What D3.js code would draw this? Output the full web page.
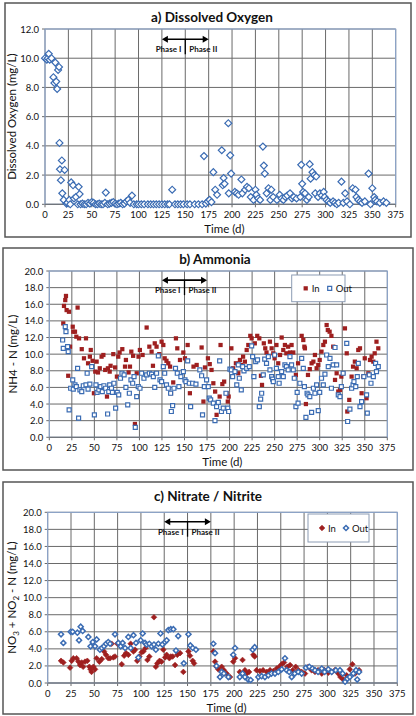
<!doctype html>
<html>
<head>
<script src="https://cdnjs.cloudflare.com/ajax/libs/d3/7.8.5/d3.min.js"></script>
<style>
  body { margin: 0; background: #fff; }
  svg text { font-family: Lato, "Open Sans", sans-serif; fill: #111; }
</style>
</head>
<body>
<svg id="chart" width="416" height="716"></svg>
<script>
// tick values
var xTicks = [0, 25, 50, 75, 100, 125, 150, 175, 200, 225, 250, 275, 300, 325, 350, 375];
var doTicks = [0, 2, 4, 6, 8, 10, 12];
var nTicks = [0, 2, 4, 6, 8, 10, 12, 14, 16, 18, 20];

// a) dissolved oxygen [day, mg/L]
var doData = [[0,10.0],[2,9.9],[3,10.0],[4,10.3],[5,9.9],[7,10.0],[9,8.7],[10,8.3],[11,9.7],[12,8.4],[13,7.9],[14,9.2],
  [15,9.4],[15.5,4.2],[16,2.4],[17,1.65],[18,3.0],[18.5,0.75],[20,0.3],[21,2.35],[23,0.05],[24,0.1],[26,0.3],[27,0.0],
  [28,1.5],[30,1.3],[31,0.4],[33,0.5],[35,0],[36,1.2],[37,0.7],[38,0],[40,0.05],[42,0],[44,0],[46,0.1],[48,0.05],
  [50,0.15],[52,0.1],[54,0],[56,0],[58,0.05],[60,0],[62,0],[64,0.1],[65,0.8],[67,0],[69,0.05],[71,0.1],[73,0.15],
  [75,0.05],[77,0],[79,0.05],[81,0.1],[83,0],[85,0.05],[87,0.2],[89,0.3],[91,0.1],[93,0.6],[95,0],[98,0],[100,0],
  [103,0],[106,0],[110,0],[113,0],[116,0],[119,0],[122,0],[125,0],[128,0],[131,0],[133,0],[136,1.0],[139,0],[142,0],
  [145,0],[148,0],[152,0],[155,0],[160,0],[164,0],[168,0],[170,3.3],[172,0.05],[174,0.2],[176,0.3],[178,0.15],
  [180,2.2],[182,1.0],[184,0.65],[189,3.7],[190,1.3],[191,1.8],[192,1.4],[196,5.55],[196.5,0.75],[198,3.35],[199,2.1],
  [203,0.85],[205,0.75],[207,0.65],[210,1.7],[211,0.75],[214,1.0],[216,1.2],[218,1.1],[220,0.5],[223,0.3],[225,1.0],
  [226,0.65],[228,0.4],[230,0.3],[233,3.95],[234,2.65],[235,2.1],[237,0.75],[239,1.1],[241,0.3],[242,1.0],[244,0.5],
  [248,0.3],[251,0.65],[253,0.4],[255,0.3],[257,0.5],[259,0.6],[262,0.75],[264,0.4],[266,0.5],[269,0.4],[273,0.5],
  [274,2.7],[275,1.4],[276,0.85],[278,0.75],[280,0.3],[282,0.5],[283,2.75],[284,1.75],[286,2.2],[288,2.0],[289,0.75],
  [290,1.9],[292,0.5],[294,0.75],[296,0.6],[298,0.85],[299,0.5],[301,0.3],[303,0.2],[305,0.1],[308,0.2],[310,0.1],
  [312,0.0],[314,0.1],[317,1.55],[319,0.1],[321,0.75],[323,0.2],[326,0],[329,1.1],[332,1.0],[333,0.5],[335,0.3],
  [337,0.2],[339,0.1],[342,0.2],[346,2.1],[348,0],[350,1.1],[352,0.5],[353,0.3],[355,0.2],[358,0.1],[362,0.2],[365,0.1]];

// b) ammonia [day, mg/L]
var nh4In = [[15.5,13.7],[16.3,15.8],[17.7,16.5],[18.5,17.0],[19.2,15.3],[21.8,15.1],[23,10.9],[21,7.4],[26,13.3],
  [26.6,12.7],[28.5,12.7],[30,12.1],[31.4,15.6],[33,11.9],[36,10.6],[38.5,9.5],[40.7,11.9],[43,8.9],[45,9.7],[46,10.5],
  [48,9.2],[49.5,5.3],[51,7.9],[52.5,9.1],[54,7.8],[56,8.3],[58,9.7],[60,9.9],[62,8.1],[64,4.9],[65,8.3],[67,7.9],
  [68,8.6],[71,10.0],[73,8.4],[75,7.3],[76.5,9.7],[78,10.2],[81,10.6],[84,8.5],[85,9.3],[88,7.8],[89.5,8.5],[91,10.3],
  [93,9.8],[95,1.6],[97,7.7],[99,9.7],[100.5,10.5],[103.5,9.9],[108,13.2],[111,10.9],[113.5,10.3],[115,8.6],[117,11.3],
  [119,10.9],[122,10.0],[124.6,11.5],[126.5,11.1],[128,9.5],[130,9.2],[132,8.9],[134,8.5],[135,5.3],[137.5,6.6],
  [140.5,11.9],[142,10.7],[145,9.3],[148.7,10.2],[150.5,9.5],[153.5,11.1],[156,5.3],[160,8.5],[163.5,8.7],[169,10.8],
  [171,4.3],[172.7,8.4],[176,9.5],[178,8.8],[180,8.1],[182,6.5],[184,5.5],[185.6,2.7],[189,4.9],[190,11.1],[192,6.4],
  [194,6.7],[196.7,5.3],[198,4.3],[199,4.9],[202,10.7],[204,8.3],[207,8.9],[209.7,7.7],[211.5,9.3],[212.6,8.7],[215,9.7],
  [217,9.1],[219,10.5],[220.8,11.1],[223,12.2],[224.5,11.9],[228,11.3],[230.7,12.2],[233,11.9],[234.8,7.4],[236,6.3],
  [238,11.3],[239.6,10.7],[241,10.2],[243,9.7],[244.8,11.5],[246.7,10.7],[248.5,10.1],[250,9.5],[252,11.1],[254,8.9],
  [256,9.9],[257.8,12.0],[259.6,10.5],[261.4,11.1],[263,10.1],[265,10.9],[267,10.2],[268.8,11.1],[270.7,10.2],[273.6,7.5],
  [276,8.9],[280,12.2],[281.8,11.7],[283,10.9],[283.6,10.7],[284.7,4.0],[287,7.5],[289,8.2],[291,8.9],[293,9.1],
  [294.7,9.9],[296.6,8.3],[298.4,8.7],[300,9.3],[302,10.3],[304,11.1],[305.8,11.5],[307.7,13.5],[309,12.9],[311,12.7],
  [313,12.2],[315,10.9],[317,6.9],[318.8,7.7],[320.6,5.5],[322.5,5.7],[324,7.3],[326,7.7],[328,13.1],[330,10.1],
  [330.6,3.1],[332.8,4.5],[335.4,7.3],[337,8.5],[339,9.1],[341,8.3],[342.8,10.5],[344.7,10.7],[346.5,5.3],[348.4,7.3],
  [350,9.5],[352,4.7],[354,7.7],[355.8,9.3],[357.6,9.7],[359.5,9.1],[361,10.1],[363,11.5],[365,10.7]];
var nh4Out = [[14.8,11.7],[15.5,10.7],[17.7,13.3],[18.5,12.7],[20.3,10.9],[21,10.3],[22,3.3],[23.7,5.9],[26,6.9],
  [26.6,5.8],[28.5,6.3],[30,6.1],[31.4,8.3],[32.5,2.3],[34,5.7],[36,5.5],[37.7,6.2],[40.7,6.3],[42,7.7],[43,5.8],[45,6.4],
  [47,8.5],[50,2.7],[51.8,6.3],[53,5.4],[55,5.7],[57,6.1],[58.8,5.5],[60.6,6.2],[62.5,5.9],[64.7,2.8],[66,5.5],[67,6.3],
  [69,5.9],[70,5.4],[71.7,6.5],[73.6,3.5],[75.4,5.4],[77,5.1],[79,7.1],[80.6,7.7],[83,7.5],[85,6.0],[87,3.9],[88.8,5.3],
  [90.6,6.9],[92.5,6.5],[94,7.3],[95.4,1.2],[97,4.9],[98.7,6.1],[100.6,5.9],[102.4,7.7],[105,7.1],[108,7.5],[111,7.7],
  [113.5,7.6],[115.4,7.3],[117,6.0],[119,7.7],[121,9.8],[122.8,6.9],[124.6,6.7],[126.5,8.5],[128,7.7],[130,6.3],[132,5.9],
  [134.6,5.3],[135.4,3.1],[136.8,3.8],[138.3,5.9],[140,8.3],[142,7.7],[143.8,6.1],[146,7.3],[148.7,7.9],[150.5,6.9],
  [151.6,6.7],[153.5,9.2],[155.3,6.5],[156.8,3.7],[159,6.5],[162.7,6.4],[167,8.1],[169,7.4],[170,2.7],[172,6.1],
  [174.5,6.9],[176.4,6.1],[177.5,4.7],[179,4.5],[182,4.1],[183.8,2.0],[185.6,3.7],[187.5,4.2],[189,9.2],[191,3.1],
  [193,3.5],[196,5.3],[198,3.5],[199,3.1],[200.4,8.2],[202,8.1],[203.4,7.3],[206,7.9],[208,6.3],[209.7,8.7],[210.8,7.1],
  [213,5.7],[214.5,8.5],[216,8.0],[219,8.3],[221.9,8.5],[224.5,11.0],[225.6,9.7],[227,7.3],[229,9.1],[231,9.3],[233,3.7],
  [234.5,4.6],[235.6,5.3],[237.4,7.5],[239,9.4],[241,8.9],[243,9.7],[244.8,8.1],[246.7,7.3],[247.8,7.0],[248.5,6.7],
  [250,9.9],[252,8.3],[254,7.3],[255,6.5],[257.8,7.9],[259.6,7.3],[261.4,8.7],[263,8.5],[265,8.1],[267,9.7],[268.8,8.7],
  [270.7,8.1],[271.8,7.1],[273.6,3.7],[275,5.4],[276,4.1],[278,6.5],[280,9.5],[281.8,8.3],[283,6.1],[284.7,2.4],[286,5.3],
  [287,5.1],[289,4.9],[291,3.0],[293,5.9],[294.7,5.3],[296.6,6.3],[298.4,3.2],[300,5.4],[302,7.1],[304,6.3],[305.8,7.6],
  [307.7,9.9],[309.5,8.5],[311.4,9.5],[313,5.9],[315,8.7],[317,10.8],[318.8,8.7],[320.6,5.1],[322.5,4.9],[324,6.1],
  [326,7.7],[330,11.3],[331,1.9],[333.5,3.4],[335.4,5.9],[337,6.3],[338,6.7],[340,6.1],[341.7,7.3],[342.8,8.9],
  [344.7,3.7],[346.5,4.3],[349,7.3],[352,5.1],[352.8,2.9],[355,7.5],[356.9,6.5],[359.5,7.3],[362,8.9],[363,7.9],[365,8.5]];

// c) nitrate / nitrite [day, mg/L]
var noxIn = [[14.3,2.6],[16.8,2.4],[24,1.8],[25.7,2.6],[27.5,2.9],[31,2.9],[33,2.5],[34.7,2.1],[36.5,2.4],[38,1.9],
  [40,2.5],[42.5,2.6],[44.7,1.9],[46,1.6],[47,1.3],[49,1.9],[50.8,1.6],[52.5,2.9],[55.4,2.5],[58,2.8],[60.4,3.7],
  [62.5,3.3],[65,2.9],[66.9,2.9],[68.6,4.6],[70.4,3.0],[72.2,3.1],[74.7,4.6],[76.9,4.6],[79.4,2.2],[82,3.2],[84,3.5],
  [86.5,3.3],[89,4.6],[92,3.7],[93.7,3.9],[96,2.6],[98.3,3.1],[100.8,3.6],[102.6,3.7],[105,4.1],[107,2.7],[109,3.1],
  [114,7.7],[116,1.9],[117.6,2.3],[120,2.6],[122,2.5],[124,3.9],[126,3.0],[127.6,3.3],[130.5,2.9],[132,3.1],[134,3.1],
  [136.6,2.1],[139,3.3],[142,3.5],[145.5,1.3],[151,3.7],[152.6,3.2],[155.5,2.6],[157,2.3],[177.7,3.7],[179.5,2.5],
  [181,1.9],[183,1.6],[184.8,0.7],[186.6,1.9],[189,1.5],[192,1.1],[195.6,0.7],[199,2.5],[201,2.9],[206,1.3],[209,2.7],
  [211.6,1.5],[213.4,1.1],[216,1.3],[220.6,3.3],[222,3.1],[224,1.5],[227.7,1.4],[231,1.5],[235,1.3],[238.5,1.5],
  [242,1.4],[245.6,1.7],[248.5,1.9],[251,2.2],[253.5,2.4],[257,1.9],[260,2.1],[262.8,1.5],[266,1.9],[269,1.5],[272.4,1.3],
  [276,1.1],[279.5,1.9],[283,1.5],[286.7,1.3],[290,1.5],[294,1.1],[297,1.5],[301,1.2],[304.6,1.3],[308,1.5],[311.7,1.1],
  [314,0.7],[317,0.4],[319,0.35],[320.7,0.9],[324,1.6],[326.8,2.2],[329.6,1.1],[331.4,1.3],[334,1.5]];
var noxOut = [[14.3,5.7],[16.8,4.7],[24.7,6.0],[26.8,6.0],[31.8,5.9],[33.6,5.0],[35.4,6.6],[37.5,6.1],[43.6,5.4],
  [46,4.3],[48.3,4.8],[50.8,4.3],[52.5,5.1],[56,3.9],[58,4.1],[60.4,4.3],[62.6,4.6],[65,4.8],[66.9,4.6],[72.2,5.7],
  [75.8,4.7],[78.3,4.3],[80.4,4.7],[83,4.1],[86.5,5.4],[89,4.1],[92,5.6],[94.7,4.7],[97.2,3.0],[99.7,5.0],[101.9,5.8],
  [104.4,4.7],[106,4.5],[109,4.6],[111.5,4.3],[114,4.5],[116,3.9],[118.7,4.6],[121,5.8],[123,4.5],[125.8,4.8],[127.6,5.0],
  [129.4,6.2],[132,6.3],[134.8,6.3],[137.6,3.8],[140,5.5],[146,2.3],[151,5.7],[153,4.4],[155.5,4.1],[159,3.9],[177.7,4.6],
  [179.5,3.5],[181,2.0],[184.8,0.7],[186.6,1.3],[189,1.1],[193.8,0.7],[199,3.3],[201,4.1],[206,0.7],[209,1.1],[211.6,0.7],
  [215,0.4],[217.7,0.35],[219.9,3.9],[222,4.2],[226,0.7],[229.5,0.8],[233,0.7],[236.7,0.9],[240,1.1],[243.8,1.1],
  [247.4,1.3],[251,1.6],[254.5,2.9],[256.3,1.5],[259,1.3],[261.7,0.7],[265,1.1],[268.8,1.3],[272.4,1.1],[277,1.8],
  [280.6,1.9],[284,1.7],[286.7,1.5],[290,1.3],[294,1.7],[297,1.3],[301,1.6],[304.6,1.3],[309,1.5],[313.5,1.5],[316.4,1.1],
  [319,0.15],[321.4,0.5],[324,0.7],[327.8,1.1],[330.7,1.5],[332,0.4],[334,1.3]];

var red = "#9e1f1f", blue = "#3b6cb3";
var svg = d3.select("#chart");

var diamond = d3.symbol().type(d3.symbolSquare);

function drawPanel(cfg) {
  var g = svg.append("g");

  g.append("rect")
    .attr("x", cfg.frame[0]).attr("y", cfg.frame[1])
    .attr("width", cfg.frame[2]).attr("height", cfg.frame[3])
    .attr("fill", "#fff").attr("stroke", "#555").attr("stroke-width", 1.5);

  var x = d3.scaleLinear().domain([0, 375]).range([cfg.left, cfg.right]);
  var y = d3.scaleLinear().domain([0, cfg.yMax]).range([cfg.bottom, cfg.top]);

  // gridlines
  g.append("g").selectAll("line").data(xTicks).enter().append("line")
    .attr("x1", d => x(d)).attr("x2", d => x(d))
    .attr("y1", cfg.top).attr("y2", cfg.bottom + 3)
    .attr("stroke", "#6a6a6a").attr("stroke-width", 1);
  g.append("g").selectAll("line").data(cfg.yTicks).enter().append("line")
    .attr("x1", cfg.left - 3).attr("x2", cfg.right)
    .attr("y1", d => y(d)).attr("y2", d => y(d))
    .attr("stroke", "#6a6a6a").attr("stroke-width", 1);

  g.append("rect")
    .attr("x", cfg.left).attr("y", cfg.top)
    .attr("width", cfg.right - cfg.left).attr("height", cfg.bottom - cfg.top)
    .attr("fill", "none").attr("stroke", "#8eaad6").attr("stroke-width", 1);
  g.append("line")
    .attr("x1", cfg.left).attr("x2", cfg.right).attr("y1", cfg.bottom).attr("y2", cfg.bottom)
    .attr("stroke", "#6a6a6a");

  // tick labels
  g.append("g").selectAll("text").data(xTicks).enter().append("text")
    .attr("x", d => x(d)).attr("y", cfg.bottom + 14)
    .attr("text-anchor", "middle").attr("font-size", 9.5)
    .text(d => d);
  g.append("g").selectAll("text").data(cfg.yTicks).enter().append("text")
    .attr("x", cfg.left - 6).attr("y", d => y(d) + 3.5)
    .attr("text-anchor", "end").attr("font-size", 9.5)
    .text(d => d3.format(".1f")(d));

  // titles
  g.append("text")
    .attr("x", cfg.titleX).attr("y", cfg.titleY)
    .attr("text-anchor", "middle").attr("font-size", 13.5).attr("font-weight", "bold")
    .text(cfg.title);
  g.append("text")
    .attr("x", (cfg.left + cfg.right) / 2 + 4).attr("y", cfg.bottom + 29)
    .attr("text-anchor", "middle").attr("font-size", 11.5)
    .text("Time (d)");
  var yl = g.append("text")
    .attr("transform", "translate(" + cfg.yLabelX + "," + (cfg.top + cfg.bottom) / 2 + ") rotate(-90)")
    .attr("text-anchor", "middle").attr("font-size", 11.5);
  cfg.yLabel.forEach(function (part) {
    var t = yl.append("tspan").text(part[0]);
    if (part[1]) t.attr("font-size", 8).attr("dy", 3);
    else if (part[2]) t.attr("dy", -3);
  });

  // phase marker
  var py = y(cfg.phaseY);
  g.append("line").attr("x1", x(125) + 2).attr("x2", x(175) - 2).attr("y1", py).attr("y2", py)
    .attr("stroke", "#000").attr("stroke-width", 1.6);
  g.append("path").attr("d", "M" + x(125) + "," + py + "l6,-3.5v7z").attr("fill", "#000");
  g.append("path").attr("d", "M" + x(175) + "," + py + "l-6,-3.5v7z").attr("fill", "#000");
  g.append("line").attr("x1", x(150)).attr("x2", x(150)).attr("y1", py).attr("y2", py + 15)
    .attr("stroke", "#000").attr("stroke-width", 1.3);
  g.append("text").attr("x", x(150) - 4).attr("y", py + 13)
    .attr("text-anchor", "end").attr("font-size", 8).attr("font-weight", "bold").text("Phase I");
  g.append("text").attr("x", x(150) + 4).attr("y", py + 13)
    .attr("text-anchor", "start").attr("font-size", 8).attr("font-weight", "bold").text("Phase II");

  // series
  cfg.series.forEach(function (s) {
    g.append("g").selectAll("path").data(s.data).enter().append("path")
      .attr("d", diamond.size(s.size)())
      .attr("transform", d => "translate(" + x(d[0]) + "," + y(d[1]) + ")" + (s.rot ? " rotate(45)" : ""))
      .attr("fill", s.fill).attr("stroke", s.stroke).attr("stroke-width", s.sw);
  });

  // legend
  if (cfg.legend) {
    var L = cfg.legend;
    g.append("rect").attr("x", L[0]).attr("y", L[1]).attr("width", L[2]).attr("height", L[3])
      .attr("fill", "#fff").attr("stroke", "#8c9cb4").attr("stroke-width", 1);
    var cy = L[1] + L[3] / 2;
    cfg.series.forEach(function (s, i) {
      var lx = L[0] + 14 + i * 24;
      g.append("path").attr("d", diamond.size(s.size)())
        .attr("transform", "translate(" + lx + "," + cy + ")" + (s.rot ? " rotate(45)" : ""))
        .attr("fill", s.fill).attr("stroke", s.stroke).attr("stroke-width", s.sw);
      g.append("text").attr("x", lx + 6).attr("y", cy + 3.5).attr("font-size", 9.5).text(s.name);
    });
  }
}

drawPanel({
  frame: [5, 3, 406, 234], left: 45, right: 395.7, top: 29, bottom: 204.3,
  yMax: 12, yTicks: doTicks, title: "a) Dissolved Oxygen", titleX: 212, titleY: 22,
  yLabelX: 16, yLabel: [["Dissolved Oxygen (mg/L)"]], phaseY: 11.3,
  series: [{ name: "DO", data: doData, size: 24, rot: true, fill: "#fff", stroke: blue, sw: 1.2 }]
});

drawPanel({
  frame: [3, 248, 410, 222], left: 49.3, right: 387.3, top: 271, bottom: 437.3,
  yMax: 20, yTicks: nTicks, title: "b) Ammonia", titleX: 215, titleY: 264,
  yLabelX: 17, yLabel: [["NH4 - N (mg/L)"]], phaseY: 18.9,
  legend: [291.7, 275, 53.3, 26.7],
  series: [
    { name: "In", data: nh4In, size: 18, rot: false, fill: red, stroke: "none", sw: 0 },
    { name: "Out", data: nh4Out, size: 16, rot: false, fill: "#fff", stroke: blue, sw: 1.2 }
  ]
});

drawPanel({
  frame: [3, 482, 410, 232], left: 47.7, right: 397.3, top: 512.3, bottom: 683,
  yMax: 20, yTicks: nTicks, title: "c) Nitrate / Nitrite", titleX: 208, titleY: 501,
  yLabelX: 16, yLabel: [["NO"], ["3", true], [" + NO", false, true], ["2", true], [" - N (mg/L)", false, true]], phaseY: 18.9,
  legend: [308, 514, 61, 28],
  series: [
    { name: "In", data: noxIn, size: 16, rot: true, fill: red, stroke: red, sw: 0.6 },
    { name: "Out", data: noxOut, size: 13, rot: true, fill: "#fff", stroke: blue, sw: 1.5 }
  ]
});
</script>
</body>
</html>
